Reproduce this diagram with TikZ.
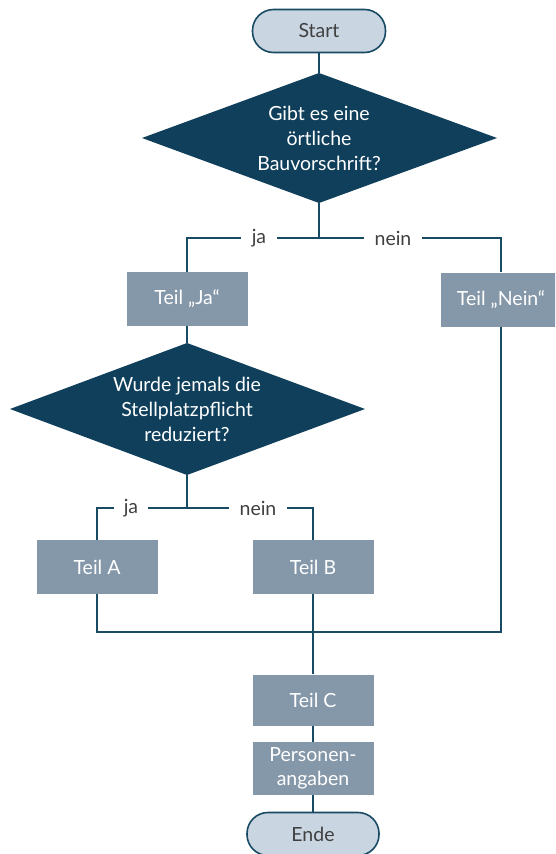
\documentclass[tikz,border=0pt]{standalone}
\usepackage{fontspec}
\setmainfont{Lato}
\usetikzlibrary{shapes.geometric}
\definecolor{navy}{HTML}{0F3F5B}
\definecolor{linec}{HTML}{184A64}
\definecolor{boxc}{HTML}{8598AA}
\definecolor{pale}{HTML}{C9D5E0}
\definecolor{txtc}{HTML}{404040}
\begin{document}
\begin{tikzpicture}[x=1pt,y=-1pt,
  conn/.style={draw=linec,line width=2pt},
  term/.style={draw=linec,line width=1.6pt,fill=pale,rounded corners=21pt,minimum width=133pt,minimum height=43pt,text=txtc,font=\fontsize{19.5}{23}\selectfont,inner sep=0pt},
  dec/.style={fill=navy},
  dectext/.style={text=white,font=\fontsize{19.5}{25}\selectfont,align=center,inner sep=0pt},
  part/.style={fill=boxc,text=white,minimum width=121pt,minimum height=54pt,font=\fontsize{19.5}{24}\selectfont,align=center,inner sep=0pt},
  lbl/.style={text=txtc,font=\fontsize{19.5}{23}\selectfont,fill=white,inner xsep=11pt,inner ysep=2pt}]
\useasboundingbox (0,0) rectangle (555,854);
\clip (0,0) rectangle (555,854);
\fill[white] (0,0) rectangle (555,854);
% nodes
\node[term] (start) at (319,31) {Start};
\path[dec] (142,138) -- (319,73) -- (497,138) -- (319,203) -- cycle;
\coordinate (d1t) at (319,73);
\coordinate (d1b) at (319,203);
\node[dectext] (d1) at (319,138) {Gibt es eine\\örtliche\\Bauvorschrift?};
\node[part] (tja) at (187,299) {Teil „Ja“};
\node[part,minimum width=120pt] (tnein) at (501,299.5) {Teil „Nein“};
\path[dec] (10,409) -- (187,343) -- (365,409) -- (187,475) -- cycle;
\coordinate (d2t) at (187,343);
\coordinate (d2b) at (187,475);
\node[dectext] (d2) at (187,409) {Wurde jemals die\\Stellplatzpflicht\\reduziert?};
\node[part] (ta) at (97,567) {Teil A};
\node[part] (tb) at (313,567) {Teil B};
\node[part,minimum height=51pt] (tc) at (313,700) {Teil C};
\node[part,minimum height=53pt] (pers) at (313,768.5) {Personen-\\angaben};
\node[term,minimum width=132pt] (ende) at (313,834) {Ende};
% junction coordinates
\coordinate (j1) at (319,238);
\coordinate (j1r) at (501,238);
\coordinate (j2) at (187,508);
\coordinate (j2r) at (313,508);
\coordinate (j3r) at (501,632);
% connectors
\draw[conn] (start.south) -- (d1t);
\draw[conn] (d1b) -- (j1);
\draw[conn] (tja.north) |- (j1r) -- (tnein.north);
\node[lbl] at (259,238) {ja};
\node[lbl] at (393,238) {nein};
\draw[conn] (tja.south) -- (d2t);
\draw[conn] (d2b) -- (j2);
\draw[conn] (ta.north) |- (j2r) -- (tb.north);
\node[lbl,inner xsep=10pt] at (131,508) {ja};
\node[lbl] at (258,508) {nein};
\draw[conn] (ta.south) |- (j3r) -- (tnein.south);
\draw[conn] (tb.south) -- (tc.north);
\draw[conn] (tc.south) -- (pers.north);
\draw[conn] (pers.south) -- (ende.north);
\end{tikzpicture}
\end{document}
